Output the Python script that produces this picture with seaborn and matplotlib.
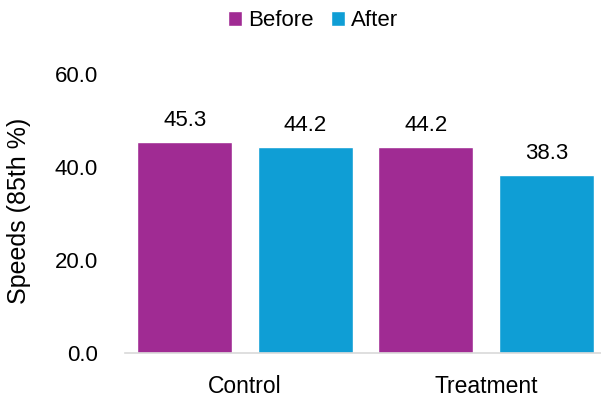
import matplotlib
matplotlib.use("Agg")
import matplotlib.pyplot as plt
import seaborn as sns
import pandas as pd

categories = ["Control", "Treatment"]
series = ["Before", "After"]
before_vals = [45.3, 44.2]
after_vals = [44.2, 38.3]
yticks = [0, 20, 40, 60]

df = pd.DataFrame({
    "Group": categories * 2,
    "Period": ["Before"] * 2 + ["After"] * 2,
    "Speed": before_vals + after_vals,
})

sns.set_theme(style="white")
plt.rcParams["font.family"] = ["Liberation Sans", "DejaVu Sans"]
plt.rcParams["text.color"] = "black"
plt.rcParams["xtick.color"] = "black"
plt.rcParams["ytick.color"] = "black"
plt.rcParams["axes.labelcolor"] = "black"

fig = plt.figure(figsize=(6.01, 3.99), dpi=100)
ax = fig.add_axes([124.5 / 601, 46 / 399, 482 / 601, (353 - 74) / 399])

palette = {"Before": "#A02B93", "After": "#0F9ED5"}
sns.barplot(data=df, x="Group", y="Speed", hue="Period", hue_order=series,
            palette=palette, width=1.0, gap=0.21, ax=ax, legend=True,
            saturation=1)

for cont in ax.containers:
    ax.bar_label(cont, fmt="%.1f", padding=8, fontsize=16, color="black")

ax.set_ylim(0, 60)
ax.set_yticks(yticks)
ax.set_yticklabels([f"{v:.1f}" for v in yticks], fontsize=16)
ax.tick_params(axis="y", length=0, pad=19, labelcolor="black")
ax.tick_params(axis="x", length=0, labelsize=16.5, pad=15.5, labelcolor="black")
ax.set_xlabel("")
ax.set_ylabel("Speeds (85th %)", fontsize=18, va="center", color="black")
ax.yaxis.set_label_coords(-(124.5 - 19.5) / 482, (353 - 210.5) / 279)
for s in ["top", "right", "left"]:
    ax.spines[s].set_visible(False)
ax.spines["bottom"].set_color("#D9D9D9")
ax.spines["bottom"].set_linewidth(1.2)

leg = ax.get_legend()
if leg is not None:
    leg.remove()
handles, labels = ax.get_legend_handles_labels()
fig.legend(handles[:2], labels[:2], loc="center", bbox_to_anchor=(313 / 601, 1 - 21 / 399),
           ncol=2, frameon=False, fontsize=16, handlelength=0.63, handleheight=0.63,
           handletextpad=0.3, columnspacing=0.75, labelcolor="black")

fig.savefig("out.png", dpi=100)
